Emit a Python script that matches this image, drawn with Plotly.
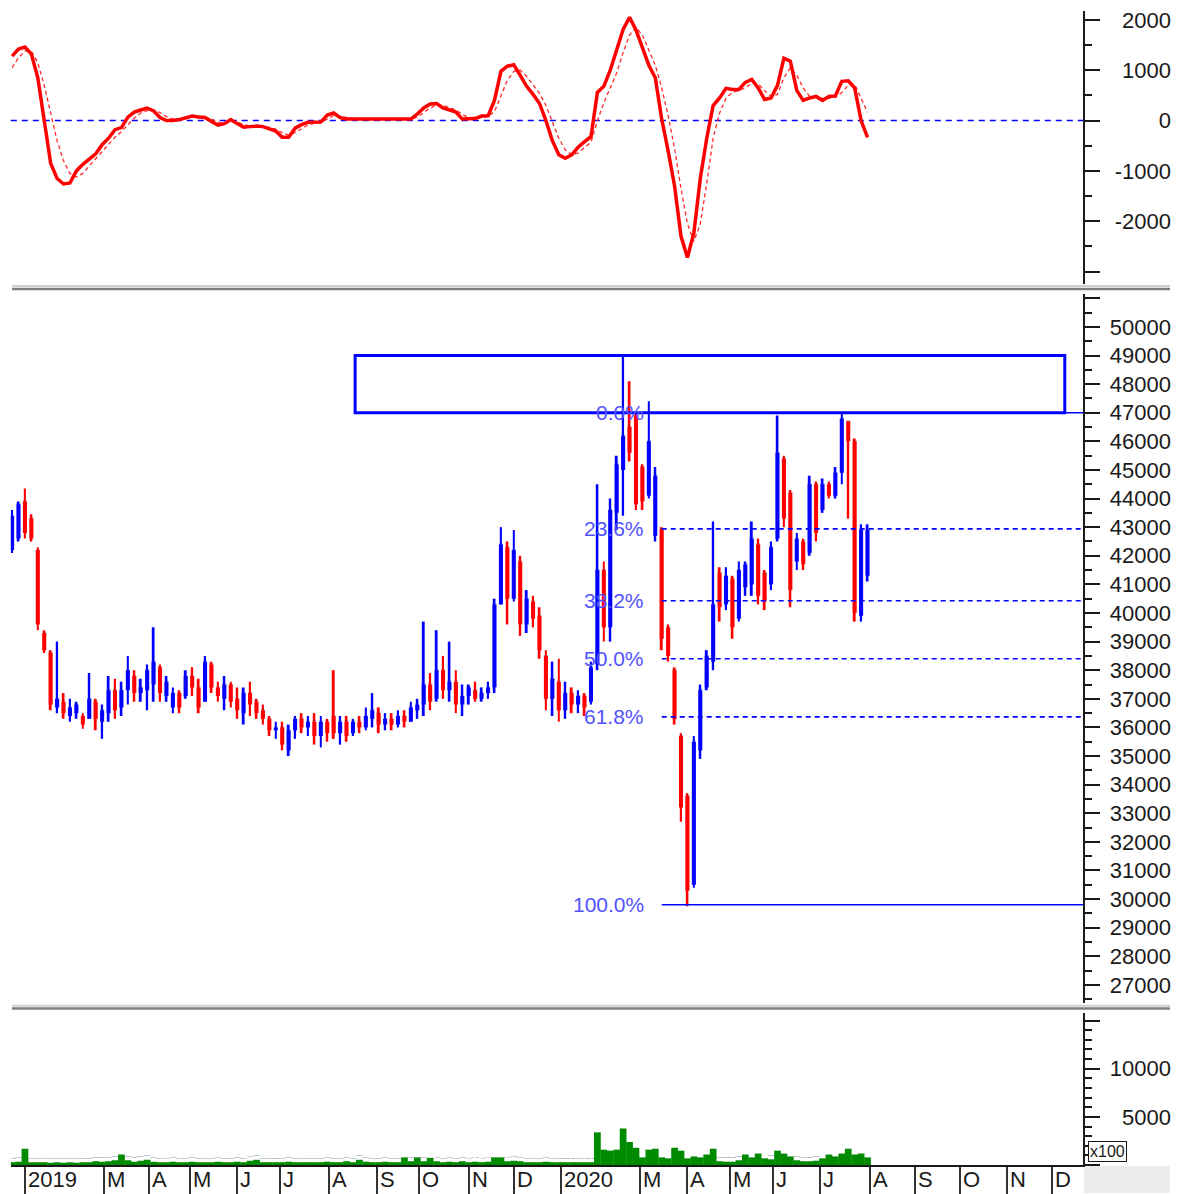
import numpy as np
import pandas as pd
import plotly.graph_objects as go

# ---------------- trading calendar (HOSE, with market holidays) ----------------
HOLIDAYS = ["2019-01-01", "2019-02-04", "2019-02-05", "2019-02-06", "2019-02-07", "2019-02-08",
            "2019-04-15", "2019-04-29", "2019-04-30", "2019-05-01", "2019-09-02",
            "2020-01-01", "2020-01-23", "2020-01-24", "2020-01-27", "2020-01-28", "2020-01-29",
            "2020-04-02", "2020-04-30", "2020-05-01", "2020-09-02"]
CAL_START, CAL_END = "2018-12-24", "2020-12-31"
BAR_EVERY = 3          # trading days aggregated in one bar
X_END_DATE = "2020-12-21"

# ---------------- price bars (VND) ----------------
OPEN = [42200, 42600, 43900, 43300, 42200, 39300, 38600, 36700, 36900, 36400,
        36500, 36400, 36300, 36900, 36200, 36500, 37300, 36700, 37300, 37800,
        37200, 37300, 37500, 38100, 37100, 36700, 37200, 37100, 37800, 37400,
        36900, 38200, 37400, 37000, 37500, 37000, 36500, 37200, 36900, 36600,
        36300, 35900, 36000, 35200, 35900, 36300, 36000, 36200, 35700, 36200,
        36400, 35800, 36200, 35800, 36200, 36000, 36300, 36500, 36100, 36300,
        36100, 36400, 36200, 36600, 36800, 37500, 37000, 38000, 37300, 37600,
        36800, 37100, 37300, 37000, 37200, 37400, 40300, 42300, 40500, 41800,
        39600, 40400, 39900, 38500, 37000, 37600, 36600, 37200, 36800, 37100,
        36900, 38200, 41500, 39500, 43500, 45000, 46500, 46900, 45100, 44100,
        42700, 42900, 39500, 38000, 35700, 33600, 30500, 35200, 37400, 38300,
        41400, 40300, 41200, 39800, 40900, 41000, 42400, 41400, 41000, 42600,
        45400, 44200, 41800, 42500, 42100, 44500, 43600, 44500, 44100, 44900,
        46700, 46000, 39900, 41300]
HIGH = [43600, 43900, 44350, 43450, 42300, 39400, 38700, 39000, 37200, 37000,
        36900, 36500, 37900, 37000, 36800, 37800, 37700, 37600, 38500, 38000,
        37700, 38200, 39500, 38200, 37800, 37400, 37300, 38000, 38100, 37700,
        38500, 38300, 37600, 37800, 37600, 37400, 37400, 37600, 37000, 36800,
        36400, 36200, 36200, 36100, 36400, 36500, 36400, 36500, 36400, 36300,
        38000, 36400, 36400, 36300, 36400, 36700, 37200, 36700, 36500, 36500,
        36600, 36600, 36900, 37000, 39700, 37900, 39400, 38500, 39000, 38000,
        37500, 37500, 37600, 37400, 37600, 40500, 43000, 42500, 42900, 42000,
        40800, 40600, 40200, 38700, 38300, 38400, 37600, 37400, 37300, 37200,
        38300, 44500, 41800, 44000, 45500, 49000, 48100, 47000, 45200, 47400,
        45100, 43000, 39600, 38100, 35800, 33700, 35700, 37500, 38700, 43200,
        41600, 41600, 41300, 41800, 41800, 43200, 42600, 41500, 42500, 46900,
        45500, 44300, 42800, 42600, 44800, 44600, 44700, 44600, 45100, 47000,
        46700, 46100, 43100, 43100]
LOW = [42100, 42500, 42600, 42500, 39400, 38600, 36600, 36500, 36300, 36200,
       36300, 35950, 36300, 35900, 35600, 36200, 36300, 36400, 36800, 36900,
       36900, 36600, 36900, 36900, 36900, 36500, 36500, 37000, 37100, 36500,
       36900, 37200, 36900, 36600, 36700, 36300, 36100, 36400, 36300, 36100,
       35700, 35600, 35200, 35000, 35600, 35800, 35700, 35400, 35300, 35500,
       35600, 35400, 35500, 35700, 35800, 35900, 36000, 35800, 35900, 35900,
       36000, 36000, 36200, 36300, 36400, 36600, 36900, 37000, 36900, 36500,
       36400, 36800, 36900, 36900, 37000, 37200, 40300, 39600, 40400, 39200,
       39300, 39500, 38400, 36600, 36400, 36200, 36300, 36500, 36500, 36400,
       36800, 38000, 39000, 39000, 42900, 43400, 45300, 43600, 43600, 44000,
       42500, 38700, 38300, 36100, 32700, 29750, 30400, 34900, 37300, 38000,
       39700, 40100, 39100, 39700, 40600, 40600, 40300, 40100, 40800, 42500,
       43000, 40200, 41500, 41500, 42000, 42500, 43500, 44000, 44000, 44500,
       43300, 39700, 39700, 41100]
CLOSE = [43400, 43800, 42800, 42600, 39600, 38700, 36800, 37000, 36500, 36700,
         36800, 36100, 37000, 36300, 36600, 37300, 36600, 37300, 38000, 37200,
         37400, 38000, 38300, 37200, 37600, 37200, 36700, 37800, 37400, 36700,
         38300, 37400, 37100, 37500, 36900, 36600, 37200, 36800, 36500, 36300,
         35900, 36000, 35400, 35900, 36300, 36000, 36200, 35700, 36200, 35800,
         35800, 36200, 35700, 36200, 36000, 36400, 36600, 36100, 36300, 36100,
         36400, 36200, 36700, 36800, 37500, 36900, 38000, 37300, 37600, 36800,
         37100, 37400, 37000, 37200, 37400, 40300, 42400, 40500, 42200, 39600,
         40500, 39800, 38700, 37000, 37700, 36600, 37200, 36800, 37100, 36700,
         38100, 41500, 39500, 43600, 45200, 46200, 45600, 43800, 43900, 46000,
         44800, 39100, 38500, 36300, 33200, 30300, 35500, 37300, 38500, 40300,
         40200, 41300, 39500, 41500, 41700, 42600, 40600, 40400, 42300, 45600,
         43300, 40800, 42600, 41700, 44500, 42800, 44500, 44100, 44900, 46800,
         46000, 40000, 42900, 42900]

# ---------------- volume (x100 shares) ----------------
VOLUME = [300, 350, 1700, 300, 300, 300, 250, 300, 250, 300,
          250, 300, 300, 400, 350, 400, 500, 1100, 500, 350,
          450, 550, 350, 300, 300, 350, 300, 300, 350, 300,
          300, 300, 350, 300, 300, 350, 300, 450, 550, 300,
          300, 300, 300, 350, 300, 300, 300, 300, 300, 350,
          300, 300, 400, 300, 550, 350, 300, 300, 350, 300,
          300, 800, 400, 800, 400, 750, 400, 300, 350, 300,
          400, 300, 350, 300, 350, 800, 800, 400, 450, 400,
          300, 300, 300, 350, 300, 300, 300, 300, 300, 300,
          300, 3400, 1600, 1500, 1600, 3800, 2400, 1800, 800, 1600,
          1700, 800, 700, 1800, 1500, 700, 900, 800, 1100, 1700,
          400, 350, 350, 500, 1100, 800, 1200, 700, 600, 1500,
          1200, 900, 500, 400, 400, 450, 700, 1100, 900, 1200,
          1700, 1100, 1200, 800]

# ---------------- MACD & signal ----------------
MACD = [1280, 1420, 1460, 1320, 850, 0, -850, -1150, -1260, -1240,
        -1000, -870, -770, -660, -480, -350, -180, -140, 70, 170,
        210, 250, 190, 60, 0, 0, 20, 60, 90, 70,
        60, -20, -90, -60, 20, -60, -130, -120, -110, -120,
        -160, -210, -330, -330, -150, -80, -35, -35, -30, 110,
        150, 60, 30, 30, 30, 30, 30, 30, 30, 30,
        30, 30, 30, 130, 250, 330, 340, 250, 210, 170,
        30, 30, 40, 90, 95, 400, 980, 1080, 1110, 900,
        680, 520, 340, 0, -400, -680, -750, -680, -530, -420,
        -320, 560, 680, 1000, 1380, 1810, 2050, 1800, 1450, 1100,
        850, 30, -600, -1300, -2300, -2720, -2230, -1150, -350, 300,
        450, 640, 620, 620, 760, 820, 650, 420, 450, 700,
        1240, 1180, 600, 400, 450, 480, 400, 480, 490, 780,
        790, 650, 0, -335]
SIGNAL = [1050, 1250, 1380, 1380, 1150, 700, 150, -400, -800, -1050,
          -1120, -1050, -900, -760, -620, -470, -330, -220, -90, 50,
          150, 200, 210, 160, 80, 30, 20, 40, 70, 75,
          70, 30, -30, -60, -30, -30, -80, -110, -110, -115,
          -135, -170, -240, -290, -240, -160, -90, -50, -35, 30,
          100, 90, 55, 35, 30, 30, 30, 30, 30, 30,
          30, 30, 30, 70, 160, 250, 310, 300, 260, 210,
          120, 60, 45, 65, 80, 180, 500, 800, 980, 1000,
          880, 720, 540, 300, -20, -350, -580, -680, -640, -540,
          -430, 0, 350, 650, 950, 1350, 1700, 1850, 1700, 1400,
          1100, 650, 100, -550, -1350, -2050, -2400, -2050, -1250, -350,
          150, 450, 560, 600, 650, 740, 730, 590, 480, 520,
          850, 1050, 900, 650, 480, 460, 440, 440, 460, 560,
          700, 720, 450, 165]

# ---------------- drawings ----------------
BOX_START, BOX_END = "2019-08-19", "2020-12-09"
BOX_LOW, BOX_HIGH = 47000, 49000
FIB_START = "2020-03-16"
FIB_HIGH, FIB_LOW = 47000, 29800
FIB_LEVELS = [0.0, 0.236, 0.382, 0.5, 0.618, 1.0]

MACD_TICKS = [-2000, -1000, 0, 1000, 2000]
PRICE_TICKS = list(range(27000, 50001, 1000))
VOL_TICKS = [5000, 10000]
MONTH_LETTERS = "JFMAMJJASOND"

# ================= build =================
calendar = pd.bdate_range(CAL_START, CAL_END, freq="C", holidays=HOLIDAYS)
pos = pd.Series(np.arange(len(calendar)), index=calendar)
n = len(CLOSE)
bar_dates = calendar[::BAR_EVERY][:n]
bar_x = pos[bar_dates].values
x_end = pos[pd.Timestamp(X_END_DATE)] + 0.5
x_range = [-0.6, x_end]

month_first = pos.groupby([calendar.year, calendar.month]).first()
tick_pos, tick_txt = [], []
for (yr, mo), p in month_first.items():
    if yr < 2019 or mo == 2:
        continue
    tick_pos.append(p)
    tick_txt.append(str(yr) if mo == 1 else MONTH_LETTERS[mo - 1])

o, h, l, c = map(np.array, (OPEN, HIGH, LOW, CLOSE))
up = c >= o
BLUE, RED = "#0000ff", "#ff0000"
cols = np.where(up, BLUE, RED)
hover = [d.strftime("%d/%m/%Y") for d in bar_dates]

fig = go.Figure()

# MACD panel
fig.add_trace(go.Scatter(x=bar_x, y=SIGNAL, mode="lines", xaxis="x", yaxis="y",
                         line=dict(color="#ff2a2a", width=1.3, dash="4px,3px"),
                         hoverinfo="skip"))
fig.add_trace(go.Scatter(x=bar_x, y=MACD, mode="lines", xaxis="x", yaxis="y",
                         line=dict(color="#ff0000", width=3.5), text=hover))

# Price panel
fig.add_trace(go.Bar(x=bar_x, y=h - l, base=l, width=0.9, xaxis="x2", yaxis="y2",
                     marker=dict(color=cols, line=dict(width=0)), hoverinfo="skip"))
fig.add_trace(go.Bar(x=bar_x, y=np.maximum(np.abs(c - o), 80), base=np.minimum(o, c),
                     width=1.9, xaxis="x2", yaxis="y2", text=hover,
                     marker=dict(color=cols, line=dict(width=0))))

# Volume panel (bars slightly overlapping so the histogram reads as one area)
fig.add_trace(go.Bar(x=bar_x, y=VOLUME, width=BAR_EVERY * 1.05, xaxis="x3", yaxis="y3",
                     marker=dict(color="#008a00", line=dict(width=0)), text=hover))

# invisible traces for the label axes
for xa, ya in (("x", "y4"), ("x2", "y5"), ("x3", "y6")):
    fig.add_trace(go.Scatter(x=[None], y=[None], xaxis=xa, yaxis=ya,
                             mode="markers", hoverinfo="skip"))

W, H = 1187, 1194

def px_x(px):
    return px / W

def px_y(px):
    return (H - px) / H

XD = [px_x(10.8), px_x(1083)]
def ydom(top_px, bot_px):
    return [px_y(bot_px), px_y(top_px)]

MACD_RANGE = [-3248, 2178]
PRICE_RANGE = [26380, 51150]
VOL_RANGE = [0, 15830]

FONT = "Liberation Sans, Arial, sans-serif"
tickfont = dict(family=FONT, size=22, color="#1a1a1a")

def tick_axis(dom, rng, dtick, minor, anchor):
    return dict(domain=dom, range=rng, side="right", anchor=anchor,
                showgrid=False, zeroline=False, showticklabels=False,
                showline=True, linecolor="#1a1a1a", linewidth=2,
                ticks="outside", ticklen=15, tickwidth=2, tickcolor="#1a1a1a",
                tick0=0, dtick=dtick,
                minor=dict(ticks="outside", dtick=minor, ticklen=7, tickwidth=2,
                           tickcolor="#1a1a1a", showgrid=False),
                fixedrange=True)

def label_axis(base, rng, vals):
    return dict(overlaying=base, range=rng, side="left", anchor="free",
                position=px_x(1171), showgrid=False, zeroline=False, showline=False,
                ticks="", tickvals=vals, ticktext=[str(v) for v in vals],
                tickfont=tickfont, ticklabeloverflow="allow", fixedrange=True)

xcommon = dict(domain=XD, range=x_range, showgrid=False, zeroline=False, fixedrange=True)

layout = dict(
    width=W, height=H, margin=dict(l=0, r=0, t=0, b=0),
    paper_bgcolor="white", plot_bgcolor="white", showlegend=False,
    barmode="overlay", hovermode="closest",
    xaxis=dict(**xcommon, anchor="y", showticklabels=False, ticks=""),
    xaxis2=dict(**xcommon, anchor="y2", showticklabels=False, ticks=""),
    xaxis3=dict(**xcommon, anchor="y3", showticklabels=False,
                showline=True, linecolor="#1a1a1a", linewidth=2,
                ticks="outside", ticklen=29, tickwidth=1.5, tickcolor="#333333",
                tickvals=tick_pos),
    yaxis=tick_axis(ydom(8, 282), MACD_RANGE, 1000, 500, "x"),
    yaxis2=tick_axis(ydom(292, 1003), PRICE_RANGE, 1000, 500, "x2"),
    yaxis3=tick_axis(ydom(1013, 1166), VOL_RANGE, 5000, 1000, "x3"),
    yaxis4=label_axis("y", MACD_RANGE, MACD_TICKS),
    yaxis5=label_axis("y2", PRICE_RANGE, PRICE_TICKS),
    yaxis6=label_axis("y3", VOL_RANGE, VOL_TICKS),
)
fig.update_layout(**layout)

shapes = []
# MACD zero line
shapes.append(dict(type="line", xref="x domain", yref="y", x0=0, x1=1, y0=0, y1=0,
                   line=dict(color="#0000ff", width=1.5, dash="6px,5px"), layer="below"))
# panel separators
for top_px in (284, 1006):
    shapes.append(dict(type="line", xref="paper", yref="paper", x0=px_x(12), x1=px_x(1170),
                       y0=px_y(top_px), y1=px_y(top_px),
                       line=dict(color="#cfcfcf", width=2)))
    shapes.append(dict(type="line", xref="paper", yref="paper", x0=px_x(12), x1=px_x(1170),
                       y0=px_y(top_px + 3), y1=px_y(top_px + 3),
                       line=dict(color="#7f7f7f", width=2.5)))
# bottom-right grey corner
shapes.append(dict(type="rect", xref="paper", yref="paper", x0=px_x(1084), x1=px_x(1170),
                   y0=px_y(1194), y1=px_y(1167), fillcolor="#ececec", line=dict(width=0),
                   layer="below"))
# resistance box
shapes.append(dict(type="rect", xref="x2", yref="y2",
                   x0=pos[pd.Timestamp(BOX_START)], x1=pos[pd.Timestamp(BOX_END)],
                   y0=BOX_LOW, y1=BOX_HIGH, line=dict(color="#0000ff", width=3)))
# fibonacci retracement
fib_x0 = pos[pd.Timestamp(FIB_START)]
annotations = []
for lv in FIB_LEVELS:
    yv = FIB_HIGH - lv * (FIB_HIGH - FIB_LOW)
    solid = lv in (0.0, 1.0)
    shapes.append(dict(type="line", xref="x2", yref="y2", x0=fib_x0, x1=x_end,
                       y0=yv, y1=yv,
                       line=dict(color="#0000ff", width=1.6,
                                 dash="solid" if solid else "5px,4px")))
    annotations.append(dict(xref="x2", yref="y2", x=fib_x0, y=yv, xanchor="right",
                            yanchor="middle", xshift=-16, showarrow=False,
                            text=f"{lv * 100:.1f}%",
                            font=dict(family=FONT, size=21, color="#5252ff")))

# month labels
for p, t in zip(tick_pos, tick_txt):
    annotations.append(dict(xref="x3", yref="paper", x=p, y=px_y(1180),
                            xanchor="left", yanchor="middle", xshift=1, showarrow=False,
                            text=t, font=dict(family=FONT, size=22, color="#1a1a1a")))
# volume multiplier box
annotations.append(dict(xref="paper", yref="paper", x=px_x(1088), y=px_y(1152),
                        xanchor="left", yanchor="middle", showarrow=False, text="x100",
                        font=dict(family=FONT, size=16, color="#1a1a1a"),
                        bordercolor="#1a1a1a", borderwidth=1, borderpad=1, bgcolor="white"))

fig.update_layout(shapes=shapes, annotations=annotations)

# the page should show the figure edge to edge, without the default body margin
PAGE_JS = ("document.body.style.margin='0';document.body.style.padding='0';"
           "document.body.style.overflow='hidden';"
           "document.documentElement.style.overflow='hidden';")
fig.write_html("out.html", post_script=PAGE_JS, config={"displayModeBar": False})
